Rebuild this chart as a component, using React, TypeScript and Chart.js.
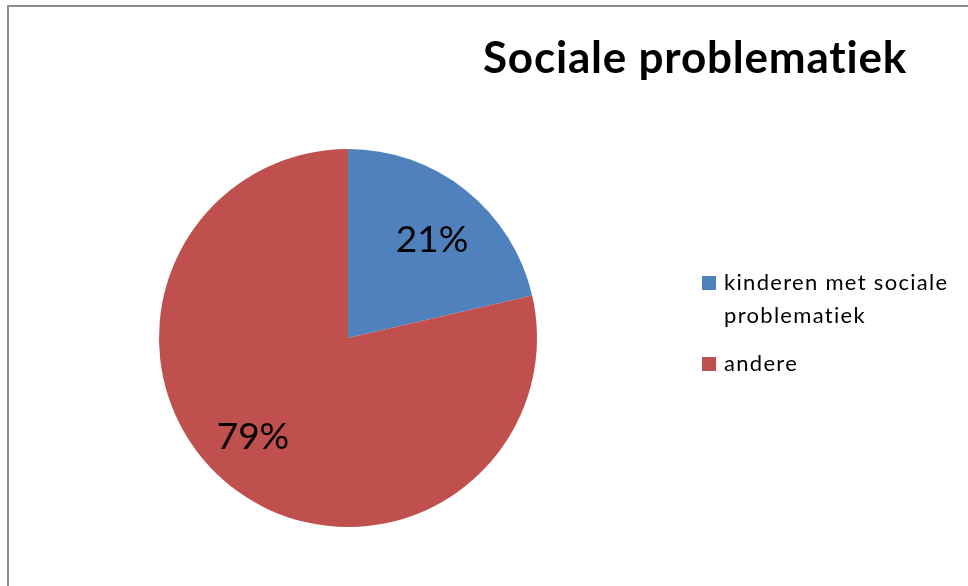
import React, { useEffect, useRef } from "react";
import { Chart, registerables } from "chart.js";

Chart.register(...registerables);

const title = "Sociale problematiek";
const categories = ["kinderen met sociale problematiek", "andere"];
const legendLines = [["kinderen met sociale", "problematiek"], ["andere"]];
const values = [21.4, 78.6];
const colors = ["#4F81BD", "#C0504D"];

const FONT = "Lato, 'Open Sans', sans-serif";

const overlay = {
  id: "overlay",
  afterDraw(chart: any) {
    const ctx = chart.ctx;
    ctx.save();
    // frame
    ctx.strokeStyle = "#8c8c8c";
    ctx.lineWidth = 2;
    ctx.beginPath();
    ctx.moveTo(8, 600);
    ctx.lineTo(8, 6);
    ctx.lineTo(980, 6);
    ctx.stroke();
    // title
    ctx.fillStyle = "#000";
    ctx.font = `bold 44px ${FONT}`;
    (ctx as any).letterSpacing = "0.8px";
    ctx.textAlign = "center";
    ctx.textBaseline = "alphabetic";
    ctx.fillText(title, 695, 73);
    (ctx as any).letterSpacing = "0px";
    // percentage labels
    const meta = chart.getDatasetMeta(0);
    const total = values.reduce((a, b) => a + b, 0);
    ctx.font = `37px ${FONT}`;
    const shifts = [
      [4, 2],
      [-15, -3],
    ];
    meta.data.forEach((arc: any, i: number) => {
      const p = arc.getProps(["x", "y", "startAngle", "endAngle", "outerRadius"], true);
      const mid = (p.startAngle + p.endAngle) / 2;
      const x = p.x + Math.cos(mid) * p.outerRadius * 0.68 + shifts[i][0];
      const y = p.y + Math.sin(mid) * p.outerRadius * 0.68 + shifts[i][1];
      ctx.fillText(Math.round((values[i] / total) * 100) + "%", x, y + 13);
    });
    // legend
    ctx.textAlign = "left";
    ctx.font = `22px ${FONT}`;
    (ctx as any).letterSpacing = "1.3px";
    let y = 290;
    legendLines.forEach((lines, i) => {
      ctx.fillStyle = colors[i];
      ctx.fillRect(702, y - 14, 14, 14);
      ctx.fillStyle = "#000";
      lines.forEach((ln) => {
        ctx.fillText(ln, 724, y);
        y += 33;
      });
      y += 15;
    });
    ctx.restore();
  },
};

export default function App() {
  const ref = useRef<HTMLCanvasElement>(null);
  useEffect(() => {
    const chart = new Chart(ref.current!, {
      type: "pie",
      data: {
        labels: categories,
        datasets: [
          {
            data: values,
            backgroundColor: colors,
            borderColor: "#ffffff",
            borderWidth: 0,
          },
        ],
      },
      options: {
        animation: false,
        responsive: false,
        layout: { padding: { left: 159, right: 431, top: 149, bottom: 59 } },
        plugins: {
          legend: { display: false },
          title: { display: false },
          tooltip: { enabled: false },
        },
      },
      plugins: [overlay],
    });
    return () => chart.destroy();
  }, []);
  return (
    <div style={{ position: "fixed", left: 0, top: 0, width: 968, height: 586, background: "#fff" }}>
      <canvas ref={ref} width={968} height={586} style={{ display: "block" }} />
    </div>
  );
}
